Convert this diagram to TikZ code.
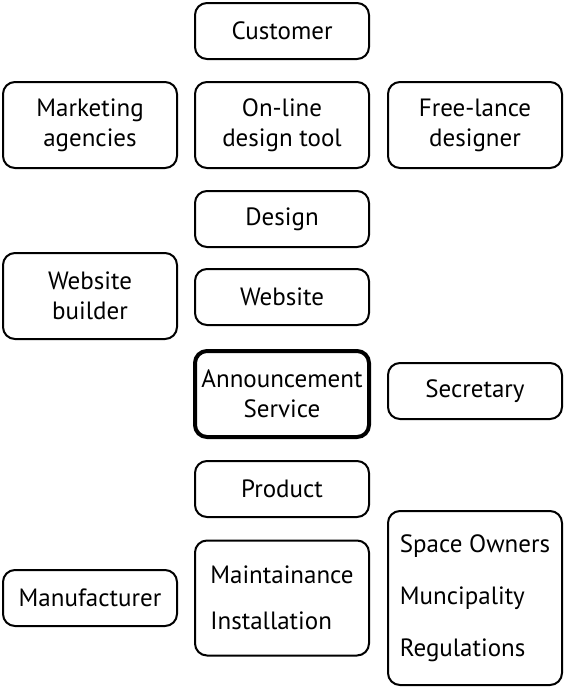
\documentclass[tikz,border=0pt]{standalone}
\usepackage{fontspec}
\setmainfont{PT Sans}
\usetikzlibrary{positioning}

\begin{document}
\begin{tikzpicture}[x=1pt, y=1pt,
    block/.style = {draw, rounded corners=12pt, line width=2pt, minimum width=174pt,
        minimum height=56pt, align=center, inner sep=4pt,
        font=\fontsize{25}{30}\selectfont},
    tall/.style = {block, minimum height=86pt},
    core/.style = {tall, line width=4pt}]
    \useasboundingbox (0,0) rectangle (565,-688);
    \node[block] (customer) at (282,-31) {Customer};
    \node[tall] (agencies) at (90,-125) {Marketing\\agencies};
    \node[tall] (tool) at (282,-125) {On-line\\design tool};
    \node[tall] (freelance) at (475,-125) {Free-lance\\designer};
    \node[block] (design) at (282,-219) {Design};
    \node[tall] (builder) at (90,-296) {Website\\builder};
    \node[block] (website) at (282,-297) {Website};
    \node[core] (service) at (282,-394) {Announcement\\Service};
    \node[block] (secretary) at (475,-391) {Secretary};
    \node[block] (product) at (282,-489) {Product};
    \node[block] (manufacturer) at (90,-598) {Manufacturer};
    \node[block, minimum height=115pt, align=left] (maintenance) at (282,-598)
        {Maintainance\\[16pt]Installation};
    \node[block, minimum height=174pt, align=left] (owners) at (475,-598)
        {Space Owners\\[22pt]Muncipality\\[22pt]Regulations};
\end{tikzpicture}
\end{document}
